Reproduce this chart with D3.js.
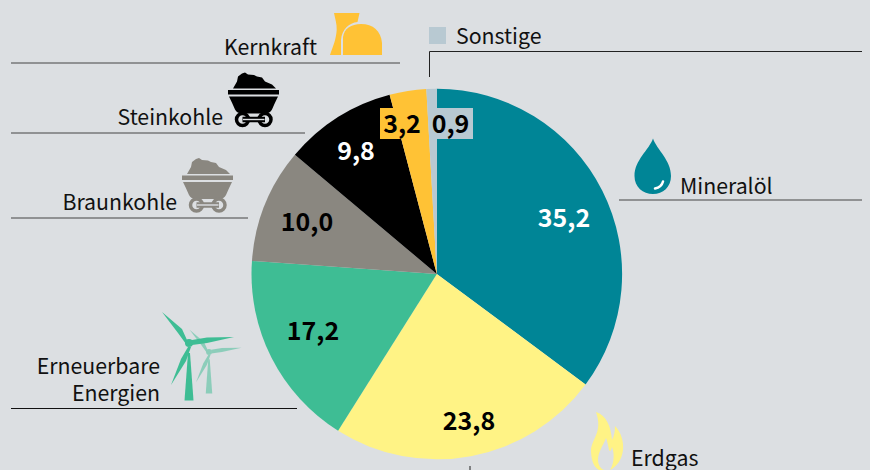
<!DOCTYPE html>
<html><head><meta charset="utf-8">
<script src="https://cdn.jsdelivr.net/npm/d3@7"></script>
<style>html,body{margin:0;padding:0;background:#dcdfe2}svg{display:block}text{font-family:"Noto Sans CJK SC","Noto Sans",sans-serif}</style>
</head><body><svg id="c" width="870" height="470"></svg>
<script>
const categories = ["Mineralöl","Erdgas","Erneuerbare Energien","Braunkohle","Steinkohle","Kernkraft","Sonstige"];
const values = [35.2,23.8,17.2,10.0,9.8,3.2,0.9];
const valueLabels = ["35,2","23,8","17,2","10,0","9,8","3,2","0,9"];
const colors = ["#008596","#fff385","#3ebd94","#8a8780","#000000","#ffc235","#b8c9d2"];
const labelColors = ["#fff","#000","#000","#000","#fff","#000","#000"];
const labelPos = [[564,218],[469,421],[313,331],[307,222],[356,151],[402,124],[450.5,124]];
const labelBoxes = {5:[380,41],6:[431,42]};
const calloutText = [
 {t:["Mineralöl"],x:680,y:194,a:"start"},
 {t:["Erdgas"],x:631,y:466,a:"start"},
 {t:["Erneuerbare","Energien"],x:160,y:374,a:"end"},
 {t:["Braunkohle"],x:177,y:210,a:"end"},
 {t:["Steinkohle"],x:223,y:125,a:"end"},
 {t:["Kernkraft"],x:317,y:55,a:"end"},
 {t:["Sonstige"],x:456,y:44,a:"start"}];
const rules = [[619,200,862,200,"#444"],[470,466,470,470,"#222"],[11,408.5,297,408.5,"#111"],[11,218,248,218,"#444"],[11,133,305,133,"#444"],[11,63,400,63,"#444"],[429.5,51.5,862,51.5,"#222"],[429.5,51.5,429.5,77,"#222"]];

const svg = d3.select("#c");
const g = svg.append("g").attr("transform","translate(436.8,274)");
const pie = d3.pie().sort(null).value(d=>d);
const arc = d3.arc().innerRadius(0).outerRadius(185.3);
g.selectAll("path").data(pie(values)).join("path").attr("d",arc).attr("fill",(d,i)=>colors[i]);

svg.append("g").selectAll("line").data(rules).join("line")
 .attr("x1",d=>d[0]).attr("y1",d=>d[1]).attr("x2",d=>d[2]).attr("y2",d=>d[3])
 .attr("stroke",d=>d[4]).attr("stroke-width",1);

labelPos.forEach((p,i)=>{
  if(labelBoxes[i]) svg.append("rect").attr("x",labelBoxes[i][0]).attr("y",108).attr("width",labelBoxes[i][1]).attr("height",31).attr("fill",colors[i]);
  svg.append("text").attr("x",p[0]).attr("y",p[1]+9).attr("text-anchor","middle")
   .attr("font-size",25).attr("font-weight",700).attr("fill",labelColors[i]).text(valueLabels[i]);
});
calloutText.forEach(c=>{
  c.t.forEach((s,k)=>svg.append("text").attr("x",c.x).attr("y",c.y+k*27).attr("text-anchor",c.a)
   .attr("font-size",21.3).attr("fill","#111").text(s));
});
// Sonstige swatch
svg.append("rect").attr("x",429).attr("y",27).attr("width",17).attr("height",17).attr("fill",colors[6]);

// icons
function cart(x,y,col){
  const s=svg.append("g").attr("transform",`translate(${x},${y})`);
  s.append("path").attr("fill",col).attr("d","M5,16 L9,9 L10,4 L14,1 L17,0 L20,2 L26,2.5 L29,4 L34,5 L37,9 L44,12 L48,16 Z");
  s.append("rect").attr("x",0).attr("y",17.5).attr("width",51).attr("height",4.5).attr("fill",col);
  s.append("path").attr("fill",col).attr("d","M1,24 H50 Q47,30 44,37 Q42,41 37,41 H14 Q9,41 7,37 Q4,30 1,24 Z");
  s.append("g").attr("fill","none").attr("stroke",col).attr("stroke-width",3.5).call(n=>{
    n.append("circle").attr("cx",14.5).attr("cy",47).attr("r",6);
    n.append("circle").attr("cx",37).attr("cy",47).attr("r",6);
    n.append("line").attr("x1",14.5).attr("y1",47).attr("x2",37).attr("y2",47).attr("stroke-width",5.5);
  });
  s.append("line").attr("x1",15).attr("y1",47).attr("x2",36.5).attr("y2",47).attr("stroke","#dcdfe2").attr("stroke-width",1.4);
}
cart(228,72.5,"#000");
cart(182,158,"#8a8780");
// Kernkraft
svg.append("path").attr("fill",colors[5]).attr("d","M334,13 H359.5 L357.5,22 C349,23 342,29 341,40 V55 H330 C333,46 336,40 336.7,30 C337,24 335,18 334,13 Z");
svg.append("path").attr("fill",colors[5]).attr("d","M343,55 V37 C344,29 351,24 361,24 C373,24 381,31 382,43 V55 Z");
// Drop
svg.append("path").attr("fill",colors[0]).attr("d","M653,138.5 C657,150 671,160 671,176 C671,187 663,194 653,194 C643,194 634.5,187 634.5,176 C634.5,160 649,150 653,138.5 Z");
svg.append("path").attr("fill","none").attr("stroke","#fff").attr("stroke-width",2.5).attr("stroke-linecap","round").attr("d","M655,188.5 C660,187.5 662,185.5 663,181.5");
// Flame
svg.append("path").attr("fill",colors[1]).attr("fill-rule","evenodd").attr("d","M596,412 C606,415 611,426 612,440 C614,436 615,432 615,426 C621,432 624,442 623,450 C622,460 616,467 610,470 H599 C593,467 591,458 591,450 C592,438 603,432 596,412 Z M610,470 C615,462 614,452 612,447 C611,451 610,452 609,450 C608,445 607,440 606,438 C603,446 598,452 598,460 C598,465 601,469 604,470 Z");
// Turbines
function turbine(x,y,k,col,op){
  const t=svg.append("g").attr("transform",`translate(${x},${y}) scale(${k})`).attr("fill",col).attr("opacity",op);
  t.append("path").attr("d","M-1,10 L1,10 L4.5,57.5 H-4.5 Z");
  t.append("circle").attr("r",4);
  t.append("path").attr("d","M-3,1 L-11,-10 L-27,-31 L-7,-14 L-2,-3 Z");
  t.append("path").attr("d","M3,-3 L18,-5.5 L45,-6 L18,0 L3,2 Z");
  t.append("path").attr("d","M-1,4 L-8,16 L-18,42 L-3,18 L2,4 Z");
}
turbine(189,343,1,colors[2],1);
turbine(209,352,0.72,colors[2],0.5);
</script></body></html>
